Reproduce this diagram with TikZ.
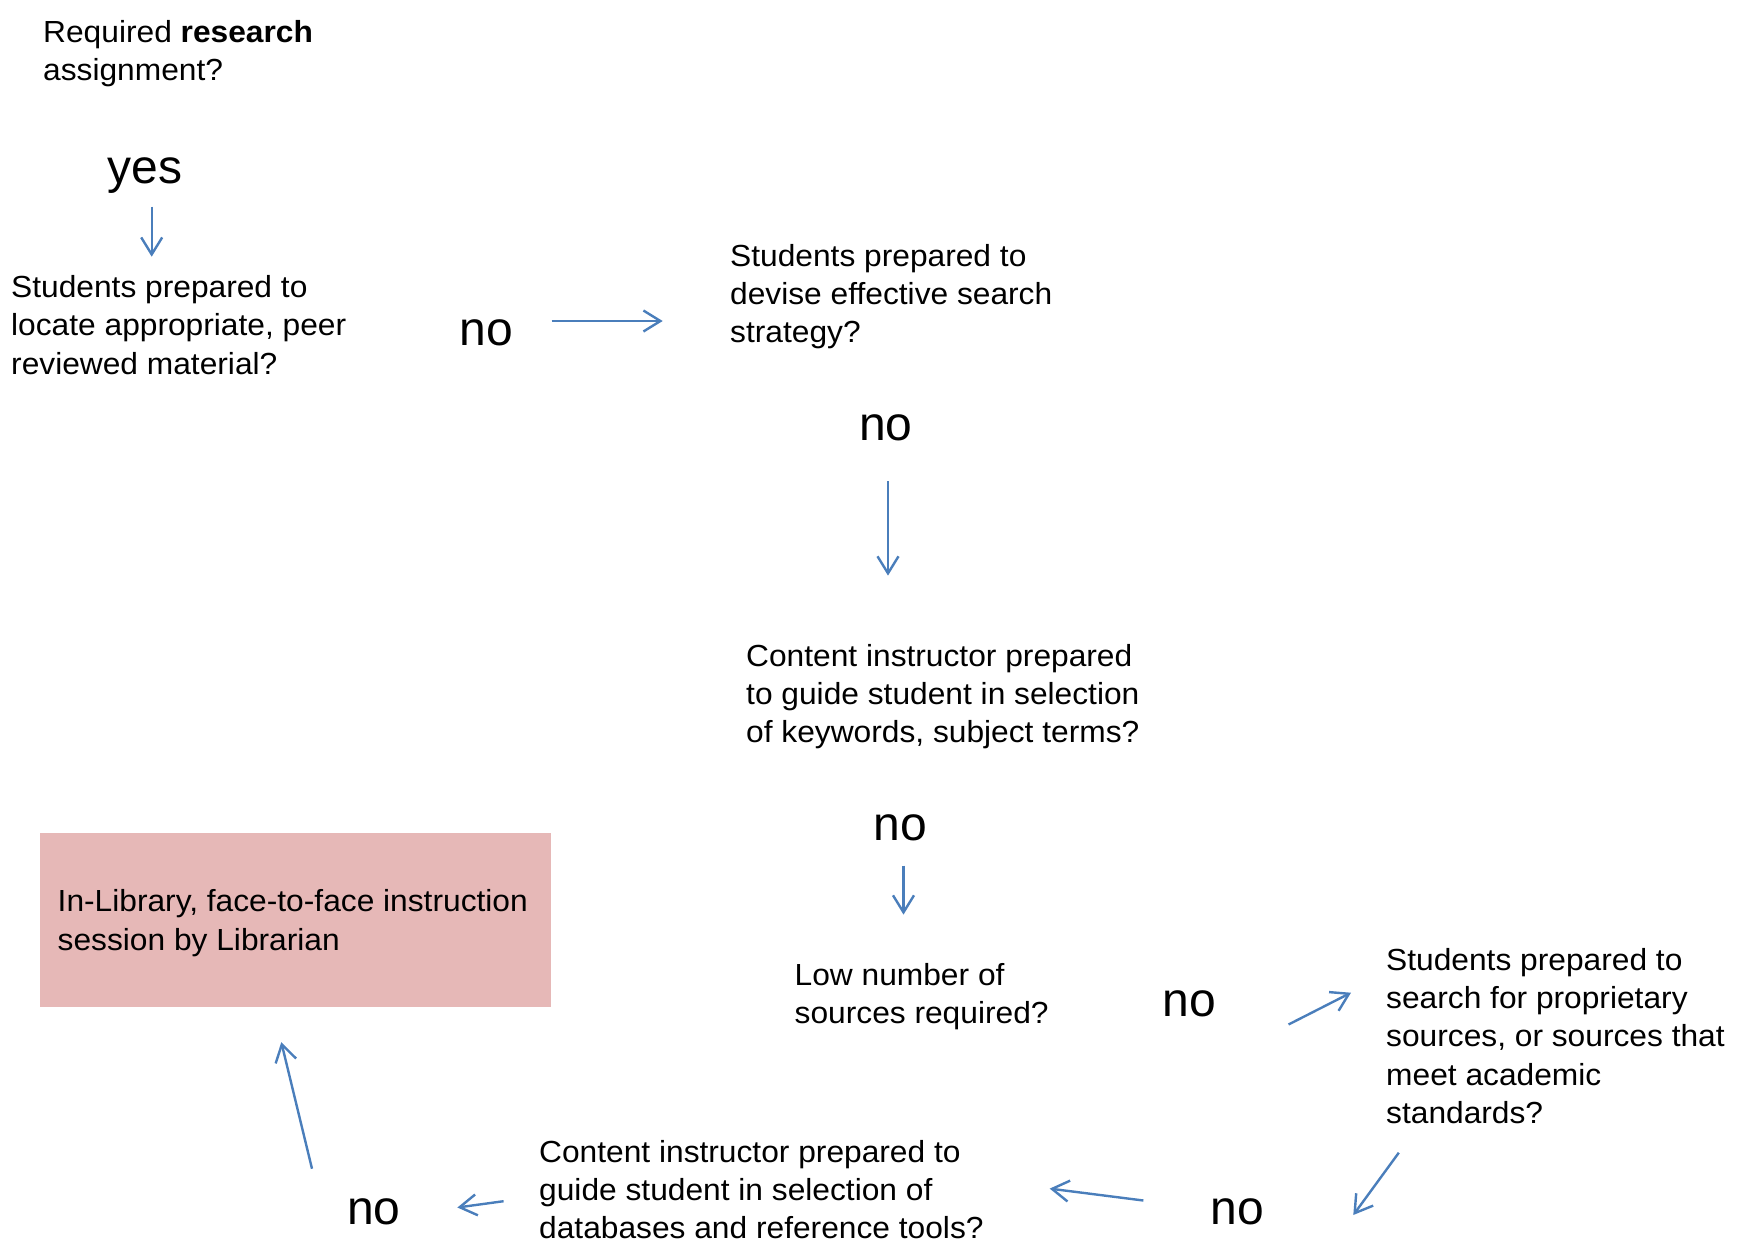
\documentclass[tikz,border=0pt]{standalone}
\usepackage{fontspec}
\setmainfont[FakeStretch=1.04]{Liberation Sans}
\newfontfamily\answerfont{Liberation Sans}
\usetikzlibrary{arrows.meta}

\definecolor{flowblue}{RGB}{74,126,187}
\definecolor{sessionpink}{RGB}{230,184,183}

% multi-line question text, baseline on its first line
\newcommand\qlines[1]{\begin{tabular}[t]{@{}l@{}}#1\end{tabular}}

\tikzset{
  question/.style={anchor=base west, inner sep=0pt,
    font=\fontsize{30.5}{38.4}\selectfont},
  answer/.style={anchor=base west, inner sep=0pt,
    font=\answerfont\fontsize{48}{56}\selectfont},
  flow/.style={draw=flowblue, line width=2.4pt,
    -{Straight Barb[length=17pt,width=21pt]}},
  sessionbox/.style={fill=sessionpink, draw=none, inner sep=0pt,
    anchor=north west, minimum width=511pt, minimum height=174pt},
}

\begin{document}
\begin{tikzpicture}[x=1pt,y=-1pt]
  \useasboundingbox (0,0) rectangle (1749,1254);

  % questions
  \node[question] (assign)  at (43,42)     {\qlines{Required \textbf{research}\\assignment?}};
  \node[question] (locate)  at (11,297.5)  {\qlines{Students prepared to\\locate appropriate, peer\\reviewed material?}};
  \node[question] (devise)  at (730,266)   {\qlines{Students prepared to\\devise effective search\\strategy?}};
  \node[question] (keyword) at (746,666)   {\qlines{Content instructor prepared\\to guide student in selection\\of keywords, subject terms?}};
  \node[question] (lownum)  at (794.5,985.5) {\qlines{Low number of\\sources required?}};
  \node[question] (propr)   at (1386,970)  {\qlines{Students prepared to\\search for proprietary\\sources, or sources that\\meet academic\\standards?}};
  \node[question] (dbase)   at (539,1162)  {\qlines{Content instructor prepared to\\guide student in selection of\\databases and reference tools?}};

  % outcome
  \node[sessionbox] (session) at (40,833) {};
  \node[question] (sessiontext) at (57.5,911.7) {\qlines{In-Library, face-to-face instruction\\session by Librarian}};

  % answers
  \node[answer] (yes) at (107.5,183)  {yes};
  \node[answer] (no1) at (459.5,345) {no};
  \node[answer] (no2) at (859,440)   {no};
  \node[answer] (no3) at (873.5,840.5) {no};
  \node[answer] (no4) at (1162.5,1016.5)   {no};
  \node[answer] (no5) at (1210.5,1224.5) {no};
  \node[answer] (no6) at (347,1224.5)  {no};

  % connector end points
  \coordinate (yes-s)   at (151.7,206.7);  \coordinate (yes-e)   at (151.7,256.7);
  \coordinate (no1-s)   at (551.7,321);    \coordinate (no1-e)   at (662.7,321);
  \coordinate (no2-s)   at (888,481);      \coordinate (no2-e)   at (888,575.6);
  \coordinate (no3-s)   at (903.5,865.5);  \coordinate (no3-e)   at (903.5,914.6);
  \coordinate (no4-s)   at (1288.5,1024.5);\coordinate (no4-e)   at (1351,992.7);
  \coordinate (propr-s) at (1398.8,1152.7);\coordinate (propr-e) at (1353.3,1215);
  \coordinate (no5-s)   at (1143.4,1200.5);\coordinate (no5-e)   at (1049.7,1188.6);
  \coordinate (dbase-s) at (503.6,1201.2); \coordinate (dbase-e) at (457.4,1207.5);
  \coordinate (no6-s)   at (312,1168.7);   \coordinate (no6-e)   at (281.3,1042.2);

  % connectors
  \draw[flow] (yes-s) -- (yes-e);
  \draw[flow] (no1-s) -- (no1-e);
  \draw[flow] (no2-s) -- (no2-e);
  \draw[flow] (no3-s) -- (no3-e);
  \draw[flow] (no4-s) -- (no4-e);
  \draw[flow] (propr-s) -- (propr-e);
  \draw[flow] (no5-s) -- (no5-e);
  \draw[flow] (dbase-s) -- (dbase-e);
  \draw[flow] (no6-s) -- (no6-e);
\end{tikzpicture}
\end{document}
